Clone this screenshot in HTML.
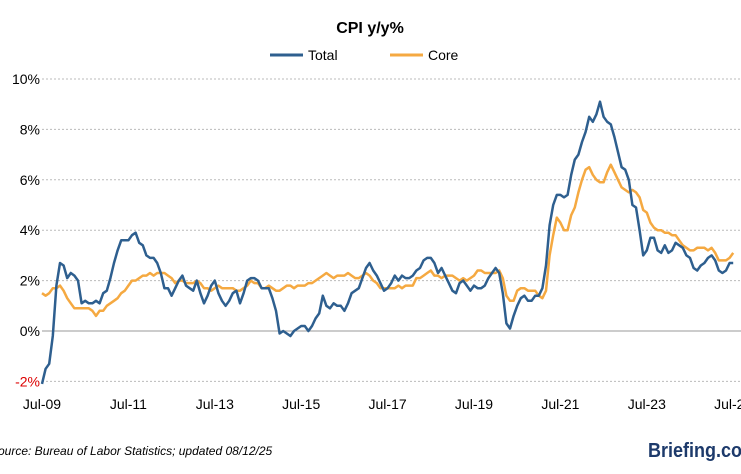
<!DOCTYPE html>
<html><head><meta charset="utf-8"><style>
body{margin:0;background:#fff;width:741px;height:474px;overflow:hidden;font-family:"Liberation Sans",sans-serif}
svg{position:absolute;left:0;top:0}
</style></head><body>
<svg id="c" width="741" height="474">
<text x="370" y="33" text-anchor="middle" font-size="16" font-weight="bold" fill="#000">CPI y/y%</text>
<g>
<line x1="270" y1="55" x2="303" y2="55" stroke="#2e5f8f" stroke-width="3"/>
<text x="308" y="60" font-size="14" fill="#000">Total</text>
<line x1="390" y1="55" x2="423" y2="55" stroke="#f5a941" stroke-width="3"/>
<text x="428" y="60" font-size="14" fill="#000">Core</text>
</g>
<g id="grid"></g><g id="ylab"></g><g id="xlab"></g><g id="lines"></g>
<text x="-2" y="455" font-size="12" font-style="italic" fill="#000">ource: Bureau of Labor Statistics; updated 08/12/25</text>
<text x="648" y="457" font-size="20" font-weight="bold" fill="#1d3a6b" textLength="94" lengthAdjust="spacingAndGlyphs">Briefing.co</text>
</svg>
<script>
const yTicks=[10,8,6,4,2,0,-2];
const xTickLabels=["Jul-09","Jul-11","Jul-13","Jul-15","Jul-17","Jul-19","Jul-21","Jul-23","Jul-25"];
const total=[-2.1,-1.5,-1.3,-0.2,1.8,2.7,
2.6,2.1,2.3,2.2,2.0,1.1,1.2,1.1,1.1,1.2,1.1,1.5,
1.6,2.1,2.7,3.2,3.6,3.6,3.6,3.8,3.9,3.5,3.4,3.0,
2.9,2.9,2.7,2.3,1.7,1.7,1.4,1.7,2.0,2.2,1.8,1.7,
1.6,2.0,1.5,1.1,1.4,1.8,2.0,1.5,1.2,1.0,1.2,1.5,
1.6,1.1,1.5,2.0,2.1,2.1,2.0,1.7,1.7,1.7,1.3,0.8,
-0.1,0.0,-0.1,-0.2,0.0,0.1,0.2,0.2,0.0,0.2,0.5,0.7,
1.4,1.0,0.9,1.1,1.0,1.0,0.8,1.1,1.5,1.6,1.7,2.1,
2.5,2.7,2.4,2.2,1.9,1.6,1.7,1.9,2.2,2.0,2.2,2.1,
2.1,2.2,2.4,2.5,2.8,2.9,2.9,2.7,2.3,2.5,2.2,1.9,
1.6,1.5,1.9,2.0,1.8,1.6,1.8,1.7,1.7,1.8,2.1,2.3,
2.5,2.3,1.5,0.3,0.1,0.6,1.0,1.3,1.4,1.2,1.2,1.4,
1.4,1.7,2.6,4.2,5.0,5.4,5.4,5.3,5.4,6.2,6.8,7.0,
7.5,7.9,8.5,8.3,8.6,9.1,8.5,8.3,8.2,7.7,7.1,6.5,
6.4,6.0,5.0,4.9,4.0,3.0,3.2,3.7,3.7,3.2,3.1,3.4,
3.1,3.2,3.5,3.4,3.3,3.0,2.9,2.5,2.4,2.6,2.7,2.9,
3.0,2.8,2.4,2.3,2.4,2.7,2.7];
const core=[1.5,1.4,1.5,1.7,1.7,1.8,
1.6,1.3,1.1,0.9,0.9,0.9,0.9,0.9,0.8,0.6,0.8,0.8,
1.0,1.1,1.2,1.3,1.5,1.6,1.8,2.0,2.0,2.1,2.2,2.2,
2.3,2.2,2.3,2.3,2.3,2.2,2.1,1.9,2.0,2.0,1.9,1.9,
1.9,2.0,1.9,1.7,1.7,1.6,1.7,1.8,1.7,1.7,1.7,1.7,
1.6,1.6,1.7,1.8,2.0,1.9,1.9,1.7,1.7,1.8,1.7,1.6,
1.6,1.7,1.8,1.8,1.7,1.8,1.8,1.8,1.9,1.9,2.0,2.1,
2.2,2.3,2.2,2.1,2.2,2.2,2.2,2.3,2.2,2.1,2.1,2.2,
2.3,2.2,2.0,1.9,1.7,1.7,1.7,1.7,1.7,1.8,1.7,1.8,
1.8,1.8,2.1,2.1,2.2,2.3,2.4,2.2,2.2,2.1,2.2,2.2,
2.2,2.1,2.0,2.1,2.0,2.1,2.2,2.4,2.4,2.3,2.3,2.3,
2.3,2.4,2.1,1.4,1.2,1.2,1.6,1.7,1.7,1.6,1.6,1.6,
1.4,1.3,1.6,3.0,3.8,4.5,4.3,4.0,4.0,4.6,4.9,5.5,
6.0,6.4,6.5,6.2,6.0,5.9,5.9,6.3,6.6,6.3,6.0,5.7,
5.6,5.5,5.6,5.5,5.3,4.8,4.7,4.3,4.1,4.0,4.0,3.9,
3.9,3.8,3.8,3.6,3.4,3.3,3.2,3.2,3.3,3.3,3.3,3.2,
3.3,3.1,2.8,2.8,2.8,2.9,3.1];
const NS="http://www.w3.org/2000/svg";
const X=i=>42+i*3.6;
const Y=v=>331-v*25.2;
function mk(t,a,p){const e=document.createElementNS(NS,t);for(const k in a)e.setAttribute(k,a[k]);p.appendChild(e);return e;}
const grid=document.getElementById('grid'),yl=document.getElementById('ylab'),xl=document.getElementById('xlab'),ln=document.getElementById('lines');
yTicks.forEach(v=>{
 const g=mk('line',{x1:42,x2:741,y1:Y(v),y2:Y(v),stroke:v===0?'#999':'#bbb','stroke-dasharray':v===0?'':'2,2','stroke-width':1},grid);
 
 
 const t=mk('text',{x:40,y:Y(v)+5,'text-anchor':'end','font-size':14,fill:v<0?'#d00':'#000'},yl);
 t.textContent=v+'%';
 
 
});
xTickLabels.forEach((s,i)=>{
 const t=mk('text',{x:X(i*24),y:409,'text-anchor':'middle','font-size':14,fill:'#000'},xl);
 t.textContent=s;
 
 
});
function path(d,c,n){
 const p=mk('path',{d:d.map((v,i)=>(i?'L':'M')+X(i).toFixed(1)+','+Y(v).toFixed(1)).join(''),fill:'none',stroke:c,'stroke-width':2.5,'stroke-linejoin':'round'},ln);
 
 
}
path(core,'#f5a941','core-line');
path(total,'#2e5f8f','total-line');
</script>
</body></html>
